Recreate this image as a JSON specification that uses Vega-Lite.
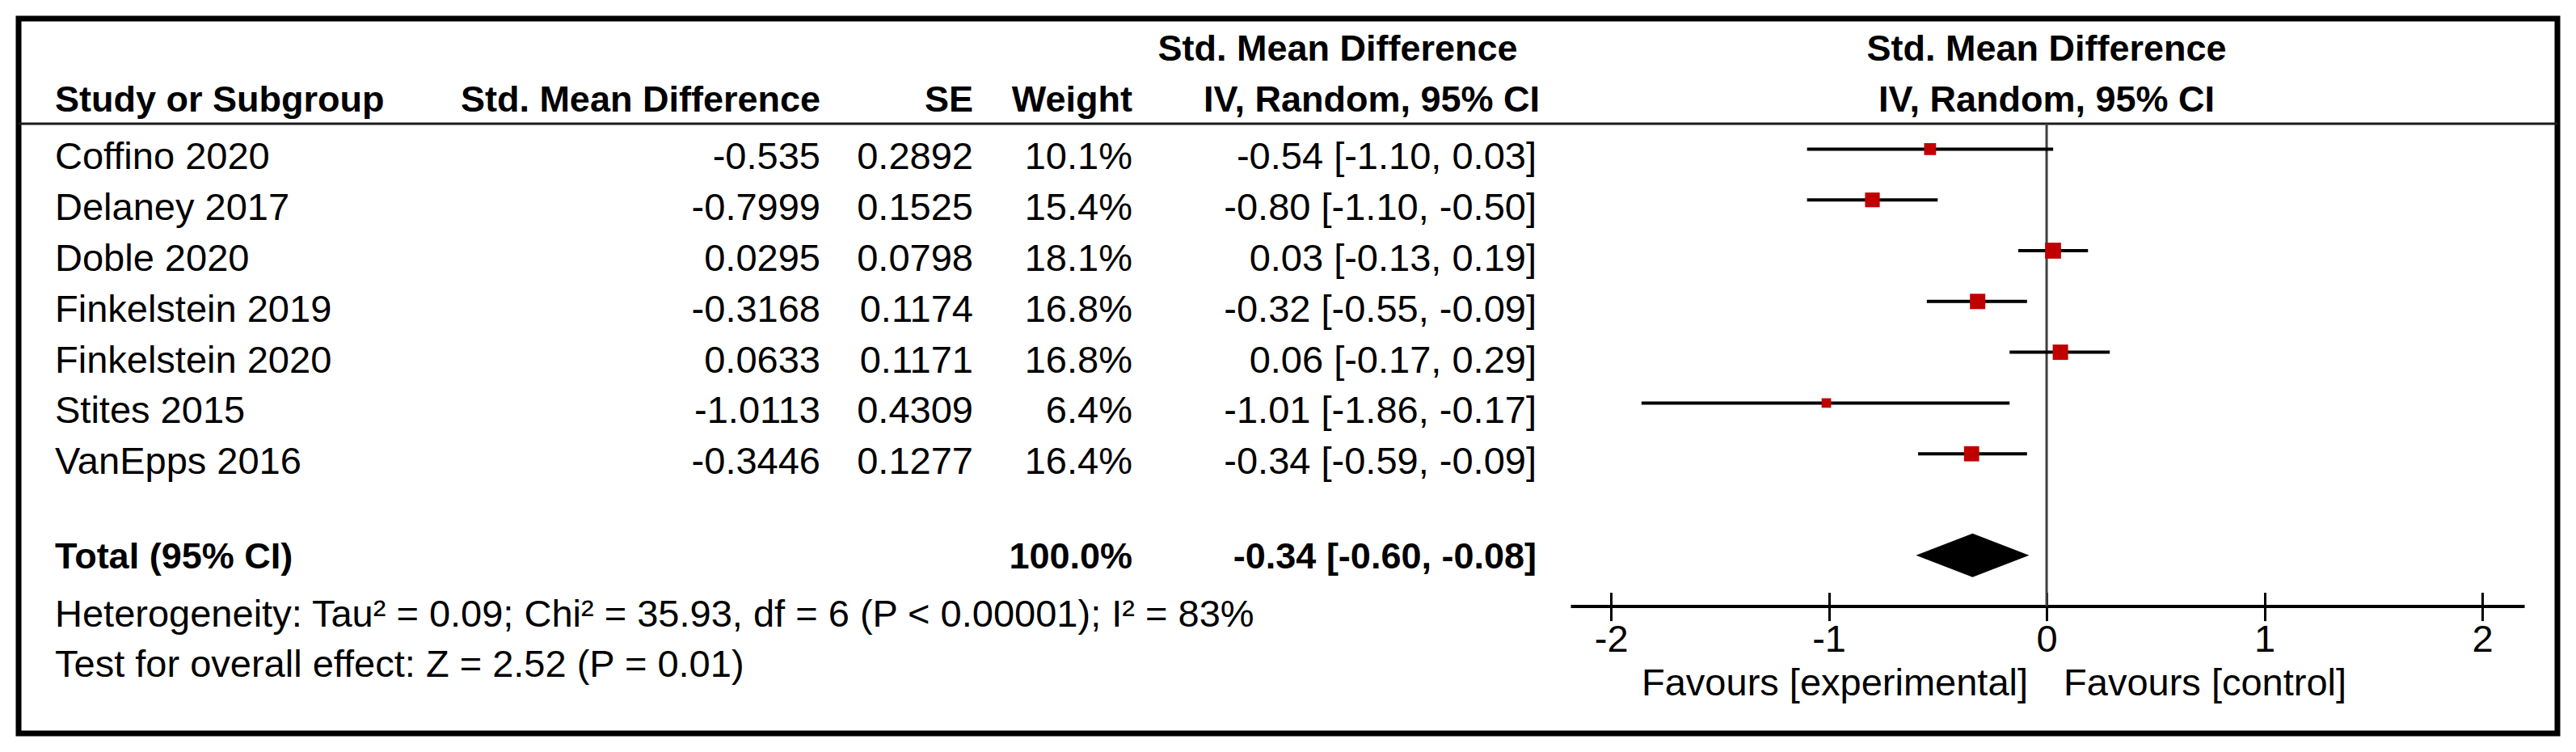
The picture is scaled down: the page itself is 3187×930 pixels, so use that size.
{
  "$schema": "https://vega.github.io/schema/vega-lite/v6.json",
  "width": 3141,
  "height": 884,
  "autosize": {"type": "none"},
  "padding": {"left": 23, "top": 23, "right": 23, "bottom": 23},
  "background": "white",
  "config": {
    "view": {"stroke": "black", "strokeWidth": 7},
    "text": {"font": "Liberation Sans", "fontSize": 47, "color": "black", "baseline": "alphabetic"}
  },
  "datasets": {
    "studies": [
      {"study": "Coffino 2020", "smd": -0.535, "se": 0.2892, "weight": 0.101, "ci": "-0.54 [-1.10, 0.03]", "lo": -1.10, "hi": 0.03},
      {"study": "Delaney 2017", "smd": -0.7999, "se": 0.1525, "weight": 0.154, "ci": "-0.80 [-1.10, -0.50]", "lo": -1.10, "hi": -0.50},
      {"study": "Doble 2020", "smd": 0.0295, "se": 0.0798, "weight": 0.181, "ci": "0.03 [-0.13, 0.19]", "lo": -0.13, "hi": 0.19},
      {"study": "Finkelstein 2019", "smd": -0.3168, "se": 0.1174, "weight": 0.168, "ci": "-0.32 [-0.55, -0.09]", "lo": -0.55, "hi": -0.09},
      {"study": "Finkelstein 2020", "smd": 0.0633, "se": 0.1171, "weight": 0.168, "ci": "0.06 [-0.17, 0.29]", "lo": -0.17, "hi": 0.29},
      {"study": "Stites 2015", "smd": -1.0113, "se": 0.4309, "weight": 0.064, "ci": "-1.01 [-1.86, -0.17]", "lo": -1.86, "hi": -0.17},
      {"study": "VanEpps 2016", "smd": -0.3446, "se": 0.1277, "weight": 0.164, "ci": "-0.34 [-0.59, -0.09]", "lo": -0.59, "hi": -0.09}
    ],
    "total": [
      {"study": "Total (95% CI)", "weight": 1.0, "ci": "-0.34 [-0.60, -0.08]", "est": -0.34, "lo": -0.60, "hi": -0.08}
    ],
    "notes": [
      {"row": "het", "text": "Heterogeneity: Tau² = 0.09; Chi² = 35.93, df = 6 (P < 0.00001); I² = 83%"},
      {"row": "test", "text": "Test for overall effect: Z = 2.52 (P = 0.01)"}
    ]
  },
  "resolve": {"scale": {"x": "independent"}, "axis": {"x": "independent"}},
  "layer": [
    {
      "layer": [
        {
          "data": {"name": "studies"},
          "mark": {"type": "text", "align": "left", "dy": 25},
          "encoding": {
            "x": {"datum": 0, "type": "quantitative", "scale": {"type": "linear", "domain": [0, 1, 2, 3, 4], "range": [45, 992, 1181, 1378, 1878], "zero": false, "nice": false}, "axis": null},
            "y": {"field": "study", "type": "nominal", "scale": {"type": "band", "domain": ["h1", "h2", "Coffino 2020", "Delaney 2017", "Doble 2020", "Finkelstein 2019", "Finkelstein 2020", "Stites 2015", "VanEpps 2016", "gap", "Total (95% CI)", "het", "test"], "range": [4.4, 820.8], "paddingInner": 0, "paddingOuter": 0}, "axis": null},
            "text": {"field": "study", "type": "nominal"}
          }
        },
        {
          "data": {"name": "studies"},
          "mark": {"type": "text", "align": "right", "dy": 25},
          "encoding": {
            "x": {"datum": 1, "type": "quantitative", "axis": null},
            "y": {"field": "study", "type": "nominal", "axis": null},
            "text": {"field": "smd", "type": "nominal"}
          }
        },
        {
          "data": {"name": "studies"},
          "mark": {"type": "text", "align": "right", "dy": 25},
          "encoding": {
            "x": {"datum": 2, "type": "quantitative", "axis": null},
            "y": {"field": "study", "type": "nominal", "axis": null},
            "text": {"field": "se", "type": "nominal"}
          }
        },
        {
          "data": {"name": "studies"},
          "mark": {"type": "text", "align": "right", "dy": 25},
          "encoding": {
            "x": {"datum": 3, "type": "quantitative", "axis": null},
            "y": {"field": "study", "type": "nominal", "axis": null},
            "text": {"field": "weight", "type": "quantitative", "format": ".1%"}
          }
        },
        {
          "data": {"name": "studies"},
          "mark": {"type": "text", "align": "right", "dy": 25},
          "encoding": {
            "x": {"datum": 4, "type": "quantitative", "axis": null},
            "y": {"field": "study", "type": "nominal", "axis": null},
            "text": {"field": "ci", "type": "nominal"}
          }
        },
        {
          "data": {"name": "total"},
          "mark": {"type": "text", "align": "left", "dy": 16, "fontWeight": "bold", "fontSize": 45},
          "encoding": {
            "x": {"datum": 0, "type": "quantitative", "axis": null},
            "y": {"field": "study", "type": "nominal", "axis": null},
            "text": {"field": "study", "type": "nominal"}
          }
        },
        {
          "data": {"name": "total"},
          "mark": {"type": "text", "align": "right", "dy": 16, "fontWeight": "bold", "fontSize": 45},
          "encoding": {
            "x": {"datum": 3, "type": "quantitative", "axis": null},
            "y": {"field": "study", "type": "nominal", "axis": null},
            "text": {"field": "weight", "type": "quantitative", "format": ".1%"}
          }
        },
        {
          "data": {"name": "total"},
          "mark": {"type": "text", "align": "right", "dy": 16, "fontWeight": "bold", "fontSize": 45},
          "encoding": {
            "x": {"datum": 4, "type": "quantitative", "axis": null},
            "y": {"field": "study", "type": "nominal", "axis": null},
            "text": {"field": "ci", "type": "nominal"}
          }
        },
        {
          "data": {"name": "notes"},
          "mark": {"type": "text", "align": "left", "dy": 25},
          "encoding": {
            "x": {"datum": 0, "type": "quantitative", "axis": null},
            "y": {"field": "row", "type": "nominal", "axis": null},
            "text": {"field": "text", "type": "nominal"}
          }
        },
        {
          "data": {"values": [{}]},
          "mark": {"type": "text", "align": "left", "dy": 16, "fontWeight": "bold", "fontSize": 45, "text": "Study or Subgroup"},
          "encoding": {
            "x": {"datum": 0, "type": "quantitative", "axis": null},
            "y": {"datum": "h2", "type": "nominal", "axis": null}
          }
        },
        {
          "data": {"values": [{}]},
          "mark": {"type": "text", "align": "right", "dy": 16, "fontWeight": "bold", "fontSize": 45, "text": "Std. Mean Difference"},
          "encoding": {
            "x": {"datum": 1, "type": "quantitative", "axis": null},
            "y": {"datum": "h2", "type": "nominal", "axis": null}
          }
        },
        {
          "data": {"values": [{}]},
          "mark": {"type": "text", "align": "right", "dy": 16, "fontWeight": "bold", "fontSize": 45, "text": "SE"},
          "encoding": {
            "x": {"datum": 2, "type": "quantitative", "axis": null},
            "y": {"datum": "h2", "type": "nominal", "axis": null}
          }
        },
        {
          "data": {"values": [{}]},
          "mark": {"type": "text", "align": "right", "dy": 16, "fontWeight": "bold", "fontSize": 45, "text": "Weight"},
          "encoding": {
            "x": {"datum": 3, "type": "quantitative", "axis": null},
            "y": {"datum": "h2", "type": "nominal", "axis": null}
          }
        },
        {
          "data": {"values": [{}]},
          "mark": {"type": "text", "align": "center", "dx": -246, "dy": 16, "fontWeight": "bold", "fontSize": 45, "text": "Std. Mean Difference"},
          "encoding": {
            "x": {"datum": 4, "type": "quantitative", "axis": null},
            "y": {"datum": "h1", "type": "nominal", "axis": null}
          }
        },
        {
          "data": {"values": [{}]},
          "mark": {"type": "text", "align": "right", "dx": 4, "dy": 16, "fontWeight": "bold", "fontSize": 45, "text": "IV, Random, 95% CI"},
          "encoding": {
            "x": {"datum": 4, "type": "quantitative", "axis": null},
            "y": {"datum": "h2", "type": "nominal", "axis": null}
          }
        },
        {
          "data": {"values": [{}]},
          "mark": {"type": "rule", "strokeWidth": 3, "color": "#1a1a1a"},
          "encoding": {
            "x": {"value": 0},
            "x2": {"value": "width"},
            "y": {"datum": "Coffino 2020", "type": "nominal", "bandPosition": 0, "axis": null}
          }
        }
      ]
    },
    {
      "resolve": {"axis": {"x": "independent"}},
      "layer": [
        {
          "data": {"values": [{}]},
          "mark": {"type": "rule", "color": "#404040", "strokeWidth": 3},
          "encoding": {
            "x": {"datum": 0, "type": "quantitative", "scale": {"domain": [-2.186, 2.193], "range": [1920, 3100], "nice": false, "zero": false},
              "axis": {"orient": "bottom", "offset": -174.4, "values": [-2, -1, 0, 1, 2], "domain": false, "labels": false, "tickSize": 17, "tickWidth": 3, "tickColor": "black", "title": null, "grid": false}},
            "y": {"datum": "Coffino 2020", "type": "nominal", "bandPosition": 0, "axis": null},
            "y2": {"datum": "het", "bandPosition": 0.5}
          }
        },
        {
          "data": {"name": "studies"},
          "mark": {"type": "rule", "color": "black", "strokeWidth": 4},
          "encoding": {
            "x": {"field": "lo", "type": "quantitative",
              "axis": {"orient": "bottom", "offset": -157.4, "values": [-2, -1, 0, 1, 2], "labelExpr": "'' + datum.value", "domainColor": "black", "domainWidth": 4, "tickColor": "black", "tickWidth": 3, "tickSize": 18, "labelFont": "Liberation Sans", "labelFontSize": 47, "labelColor": "black", "labelPadding": 1, "labelFlush": false, "labelOverlap": false, "title": null, "grid": false}},
            "x2": {"field": "hi"},
            "y": {"field": "study", "type": "nominal", "axis": null}
          }
        },
        {
          "data": {"name": "studies"},
          "mark": {"type": "point", "shape": "square", "filled": true, "color": "#C00000", "opacity": 1, "strokeWidth": 0},
          "encoding": {
            "x": {"field": "smd", "type": "quantitative", "axis": null},
            "y": {"field": "study", "type": "nominal", "axis": null},
            "size": {"field": "weight", "type": "quantitative", "scale": {"domain": [0, 0.2], "range": [0, 430]}, "legend": null}
          }
        },
        {
          "data": {"name": "total"},
          "mark": {"type": "point", "shape": "M-1,0L0,-0.386L1,0L0,0.386Z", "size": 19600, "filled": true, "color": "black", "opacity": 1, "strokeWidth": 0},
          "encoding": {
            "x": {"field": "est", "type": "quantitative", "axis": null},
            "y": {"field": "study", "type": "nominal", "axis": null}
          }
        },
        {
          "data": {"values": [{}]},
          "mark": {"type": "text", "align": "center", "dy": 16, "fontWeight": "bold", "fontSize": 45, "text": "Std. Mean Difference"},
          "encoding": {
            "x": {"datum": 0, "type": "quantitative", "axis": null},
            "y": {"datum": "h1", "type": "nominal", "axis": null}
          }
        },
        {
          "data": {"values": [{}]},
          "mark": {"type": "text", "align": "center", "dy": 16, "fontWeight": "bold", "fontSize": 45, "text": "IV, Random, 95% CI"},
          "encoding": {
            "x": {"datum": 0, "type": "quantitative", "axis": null},
            "y": {"datum": "h2", "type": "nominal", "axis": null}
          }
        },
        {
          "data": {"values": [{}]},
          "mark": {"type": "text", "align": "right", "dx": -23, "dy": 47.6, "text": "Favours [experimental]"},
          "encoding": {
            "x": {"datum": 0, "type": "quantitative", "axis": null},
            "y": {"datum": "test", "type": "nominal", "axis": null}
          }
        },
        {
          "data": {"values": [{}]},
          "mark": {"type": "text", "align": "left", "dx": 21, "dy": 47.6, "text": "Favours [control]"},
          "encoding": {
            "x": {"datum": 0, "type": "quantitative", "axis": null},
            "y": {"datum": "test", "type": "nominal", "axis": null}
          }
        }
      ]
    }
  ]
}
